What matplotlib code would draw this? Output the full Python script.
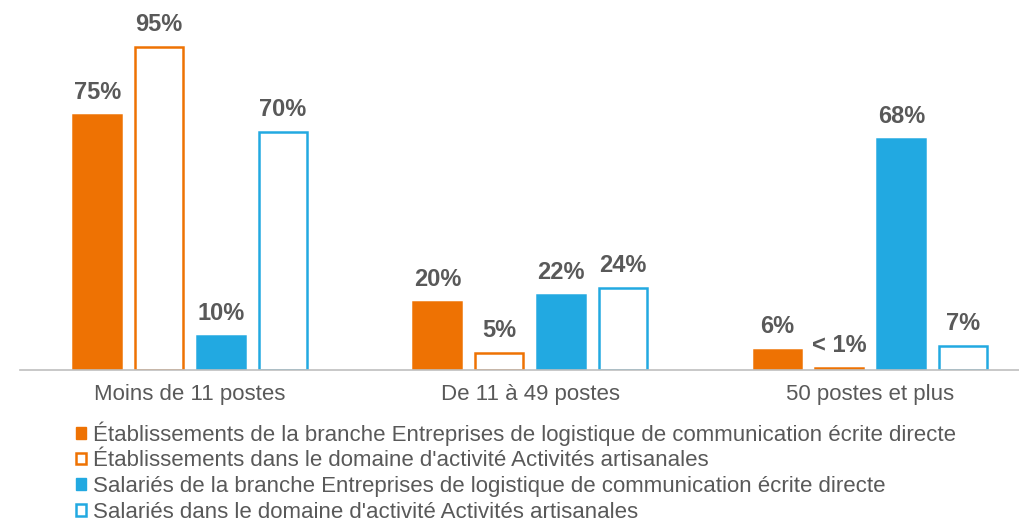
import matplotlib.pyplot as plt
import numpy as np
from matplotlib.patches import Patch

plt.rcParams['font.family'] = ['Liberation Sans', 'DejaVu Sans']

# Data
categories = ["Moins de 11 postes", "De 11 à 49 postes", "50 postes et plus"]
series_names = ["Établissements de la branche Entreprises de logistique de communication écrite directe",
                "Établissements dans le domaine d'activité Activités artisanales",
                "Salariés de la branche Entreprises de logistique de communication écrite directe",
                "Salariés dans le domaine d'activité Activités artisanales"]
etab_branche = [75, 20, 6]
etab_artisan = [95, 5, 0.5]
sal_branche = [10, 22, 68]
sal_artisan = [70, 24, 7]
etab_branche_lbl = ["75%", "20%", "6%"]
etab_artisan_lbl = ["95%", "5%", "< 1%"]
sal_branche_lbl = ["10%", "22%", "68%"]
sal_artisan_lbl = ["70%", "24%", "7%"]

orange = '#EE7203'
blue = '#22A9E1'
grey = '#595959'

fig = plt.figure(figsize=(10.2, 5.24), dpi=100)
ax = fig.add_axes([20 / 1020, 154 / 524, 1000 / 1020, 370 / 524])

x = np.arange(len(categories))
width = 0.141
step = 0.182
series = [etab_branche, etab_artisan, sal_branche, sal_artisan]
labels = [etab_branche_lbl, etab_artisan_lbl, sal_branche_lbl, sal_artisan_lbl]
styles = [dict(color=orange, edgecolor=orange),
          dict(color='white', edgecolor=orange),
          dict(color=blue, edgecolor=blue),
          dict(color='white', edgecolor=blue)]

for i, (vals, lbl, st) in enumerate(zip(series, labels, styles)):
    pos = x + (i - 1.5) * step
    bars = ax.bar(pos, vals, width, linewidth=1.8, label=series_names[i], **st)
    for b, t in zip(bars, lbl):
        ax.annotate(t, (b.get_x() + b.get_width() / 2, b.get_height()),
                    xytext=(0, 8), textcoords='offset points',
                    ha='center', va='bottom', fontsize=17,
                    fontweight='bold', color=grey)

ax.set_xlim(-0.5, 2.44)
ax.set_ylim(0, 108.8)
ax.set_xticks(x)
ax.set_xticklabels(categories, fontsize=16, color=grey)
ax.tick_params(axis='x', length=0, pad=10)
ax.set_yticks([])
for s in ['top', 'right', 'left']:
    ax.spines[s].set_visible(False)
ax.spines['bottom'].set_color('#BFBFBF')
ax.spines['bottom'].set_linewidth(1.2)

handles = [Patch(facecolor=orange, edgecolor=orange),
           Patch(facecolor='white', edgecolor=orange, linewidth=1.8),
           Patch(facecolor=blue, edgecolor=blue),
           Patch(facecolor='white', edgecolor=blue, linewidth=1.8)]
leg = fig.legend(handles, series_names, loc='upper left',
                 bbox_to_anchor=(76 / 1020, 1 - 421 / 524),
                 frameon=False, fontsize=16, handlelength=0.45,
                 handleheight=0.45, handletextpad=0.3, labelspacing=0.22,
                 borderpad=0, borderaxespad=0)
for t in leg.get_texts():
    t.set_color(grey)

plt.savefig('out.png', dpi=100)
